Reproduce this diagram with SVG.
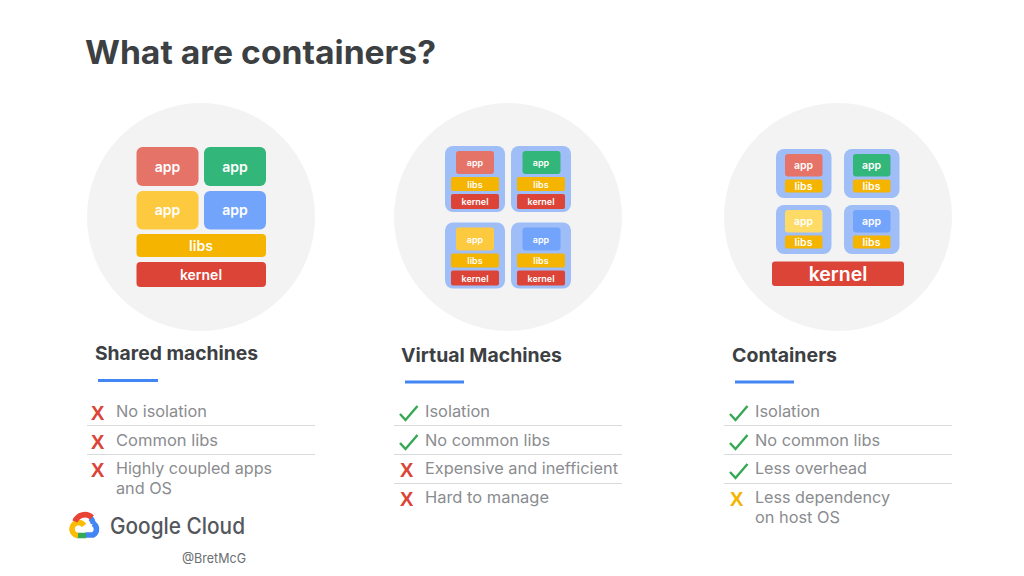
<svg xmlns="http://www.w3.org/2000/svg" width="1024" height="576" viewBox="0 0 1024 576">
<style>
text{font-family:Inter,"Open Sans","Liberation Sans",sans-serif}
.c{fill:#f3f3f3}
.r{fill:#e57368}.g{fill:#33b679}.y{fill:#fdc93f}.b{fill:#73a4fb}.l{fill:#f4b400}.k{fill:#db4437}.v{fill:#9fbdf7}.p{fill:#fddb66}
.t{fill:#fff;text-anchor:middle;font-weight:600}
.big{font-size:14px}.sm{font-size:9px}.md{font-size:10.5px}
.h{fill:#3c4043;font-weight:700;font-size:19px}
.i{fill:#8a8c8f;font-size:16px}
.u{fill:#4285f4}
.d{stroke:#d9dadb;stroke-width:1}
.ok{fill:none;stroke:#34a853;stroke-width:2.4}
.x{font-weight:700;font-size:20px;font-family:"Liberation Sans",sans-serif}
</style>
<text x="85" y="64" font-size="32" font-weight="700" fill="#3c4043" textLength="351" lengthAdjust="spacingAndGlyphs">What are containers?</text>

<g id="shared-machines">
<circle class="c" cx="201" cy="217" r="114"/>
<rect class="r" x="136.5" y="147" width="62" height="39" rx="6"/><text class="t big" x="167.5" y="172">app</text>
<rect class="g" x="204" y="147" width="62" height="39" rx="6"/><text class="t big" x="235" y="172">app</text>
<rect class="y" x="136.5" y="191" width="62" height="38.500" rx="6"/><text class="t big" x="167.5" y="215">app</text>
<rect class="b" x="204" y="191" width="62" height="38.500" rx="6"/><text class="t big" x="235" y="215">app</text>
<rect class="l" x="136.5" y="234" width="129.500" height="23" rx="4"/><text class="t big" x="201" y="251">libs</text>
<rect class="k" x="136.5" y="262" width="129.500" height="25" rx="4"/><text class="t big" x="201" y="280">kernel</text>
<text class="h" x="95" y="360" textLength="163" lengthAdjust="spacingAndGlyphs">Shared machines</text>
<rect class="u" x="98" y="379" width="60" height="3"/>
<text class="x" x="91" y="420" fill="#db4437">X</text><text class="i" x="116" y="417" textLength="91" lengthAdjust="spacingAndGlyphs">No isolation</text>
<line class="d" x1="87" y1="425.500" x2="315" y2="425.500"/>
<text class="x" x="91" y="449" fill="#db4437">X</text><text class="i" x="116" y="446" textLength="102" lengthAdjust="spacingAndGlyphs">Common libs</text>
<line class="d" x1="87" y1="454.500" x2="315" y2="454.500"/>
<text class="x" x="91" y="477" fill="#db4437">X</text><text class="i" x="116" y="474" textLength="156" lengthAdjust="spacingAndGlyphs">Highly coupled apps</text>
<text class="i" x="116" y="494" textLength="56" lengthAdjust="spacingAndGlyphs">and OS</text>
</g>

<g id="virtual-machines">
<circle class="c" cx="508" cy="217" r="114"/>
<rect class="v" x="445" y="146" width="60" height="66" rx="8"/>
<rect class="r" x="456" y="151" width="38" height="23" rx="3"/><text class="t sm" x="475" y="166">app</text>
<rect class="l" x="451" y="177" width="48" height="14" rx="2"/><text class="t sm" x="475" y="187.500">libs</text>
<rect class="k" x="451" y="194" width="48" height="15" rx="2"/><text class="t sm" x="475" y="205">kernel</text>
<rect class="v" x="511" y="146" width="60" height="66" rx="8"/>
<rect class="g" x="522.500" y="151" width="38" height="23" rx="3"/><text class="t sm" x="541" y="166">app</text>
<rect class="l" x="517" y="177" width="48" height="14" rx="2"/><text class="t sm" x="541" y="187.500">libs</text>
<rect class="k" x="517" y="194" width="48" height="15" rx="2"/><text class="t sm" x="541" y="205">kernel</text>
<rect class="v" x="445" y="222.500" width="60" height="66" rx="8"/>
<rect class="y" x="456" y="227.500" width="38" height="23" rx="3"/><text class="t sm" x="475" y="243">app</text>
<rect class="l" x="451" y="253.500" width="48" height="14" rx="2"/><text class="t sm" x="475" y="264">libs</text>
<rect class="k" x="451" y="270.500" width="48" height="15" rx="2"/><text class="t sm" x="475" y="281.500">kernel</text>
<rect class="v" x="511" y="222.500" width="60" height="66" rx="8"/>
<rect class="b" x="522.500" y="227.500" width="38" height="23" rx="3"/><text class="t sm" x="541" y="243">app</text>
<rect class="l" x="517" y="253.500" width="48" height="14" rx="2"/><text class="t sm" x="541" y="264">libs</text>
<rect class="k" x="517" y="270.500" width="48" height="15" rx="2"/><text class="t sm" x="541" y="281.500">kernel</text>
<text class="h" x="401" y="362" textLength="161" lengthAdjust="spacingAndGlyphs">Virtual Machines</text>
<rect class="u" x="405" y="380.500" width="59" height="3"/>
<path class="ok" d="M400 414l5.500 6 12-14"/><text class="i" x="425" y="417" textLength="65" lengthAdjust="spacingAndGlyphs">Isolation</text>
<line class="d" x1="394" y1="425.500" x2="622" y2="425.500"/>
<path class="ok" d="M400 443l5.500 6 12-14"/><text class="i" x="425" y="446" textLength="125" lengthAdjust="spacingAndGlyphs">No common libs</text>
<line class="d" x1="394" y1="454.500" x2="622" y2="454.500"/>
<text class="x" x="400" y="477" fill="#db4437">X</text><text class="i" x="425" y="474" textLength="193" lengthAdjust="spacingAndGlyphs">Expensive and inefficient</text>
<line class="d" x1="394" y1="483.500" x2="622" y2="483.500"/>
<text class="x" x="400" y="506" fill="#db4437">X</text><text class="i" x="425" y="503" textLength="124" lengthAdjust="spacingAndGlyphs">Hard to manage</text>
</g>

<g id="containers">
<circle class="c" cx="838" cy="217" r="114"/>
<rect class="v" x="776" y="149" width="55.500" height="49" rx="8"/>
<rect class="r" x="785" y="154" width="37.500" height="22.500" rx="3"/><text class="t md" x="803.500" y="169">app</text>
<rect class="l" x="785" y="179.500" width="37.500" height="13" rx="2"/><text class="t md" x="803.500" y="190">libs</text>
<rect class="v" x="844" y="149" width="55.500" height="49" rx="8"/>
<rect class="g" x="853" y="154" width="37.500" height="22.500" rx="3"/><text class="t md" x="871.500" y="169">app</text>
<rect class="l" x="853" y="179.500" width="37.500" height="13" rx="2"/><text class="t md" x="871.500" y="190">libs</text>
<rect class="v" x="776" y="205" width="55.500" height="49" rx="8"/>
<rect class="p" x="785" y="210" width="37.500" height="22.500" rx="3"/><text class="t md" x="803.500" y="225">app</text>
<rect class="l" x="785" y="235.500" width="37.500" height="13" rx="2"/><text class="t md" x="803.500" y="246">libs</text>
<rect class="v" x="844" y="205" width="55.500" height="49" rx="8"/>
<rect class="b" x="853" y="210" width="37.500" height="22.500" rx="3"/><text class="t md" x="871.500" y="225">app</text>
<rect class="l" x="853" y="235.500" width="37.500" height="13" rx="2"/><text class="t md" x="871.500" y="246">libs</text>
<rect class="k" x="772" y="261.500" width="132" height="24.500" rx="3"/><text class="t" x="838" y="281" font-size="19.500">kernel</text>
<text class="h" x="732" y="362" textLength="105" lengthAdjust="spacingAndGlyphs">Containers</text>
<rect class="u" x="735" y="380.500" width="59" height="3"/>
<path class="ok" d="M730 414l5.500 6 12-14"/><text class="i" x="755" y="417" textLength="65" lengthAdjust="spacingAndGlyphs">Isolation</text>
<line class="d" x1="724" y1="425.500" x2="952" y2="425.500"/>
<path class="ok" d="M730 443l5.500 6 12-14"/><text class="i" x="755" y="446" textLength="125" lengthAdjust="spacingAndGlyphs">No common libs</text>
<line class="d" x1="724" y1="454.500" x2="952" y2="454.500"/>
<path class="ok" d="M730 472l5.500 6 12-14"/><text class="i" x="755" y="474" textLength="112" lengthAdjust="spacingAndGlyphs">Less overhead</text>
<line class="d" x1="724" y1="483.500" x2="952" y2="483.500"/>
<text class="x" x="730" y="506" fill="#f4b400">X</text><text class="i" x="755" y="503" textLength="135" lengthAdjust="spacingAndGlyphs">Less dependency</text>
<text class="i" x="755" y="523" textLength="85" lengthAdjust="spacingAndGlyphs">on host OS</text>
</g>

<g id="google-cloud-logo">
<g fill="none" stroke-width="5.500">
<path d="M93 523.500a6.500 6.500 0 0 1 0 11.500h-7.500" stroke="#4285f4"/>
<path d="M93.500 524a10 10 0 0 0-3-6" stroke="#4285f4"/>
<path d="M86 535.500H77" stroke="#34a853"/>
<path d="M78 535.500a6.500 6.500 0 1 1 6-10" stroke="#fbbc04"/>
<path d="M75 521.500a10.500 10.500 0 0 1 17-4" stroke="#ea4335"/>
</g>
<text x="110" y="534" font-size="23" fill="#54575b" font-weight="500" textLength="135" lengthAdjust="spacingAndGlyphs">Google Cloud</text>
</g>
<text x="182" y="563" font-size="13" fill="#6b6e72" textLength="64" lengthAdjust="spacingAndGlyphs">@BretMcG</text>
</svg>
